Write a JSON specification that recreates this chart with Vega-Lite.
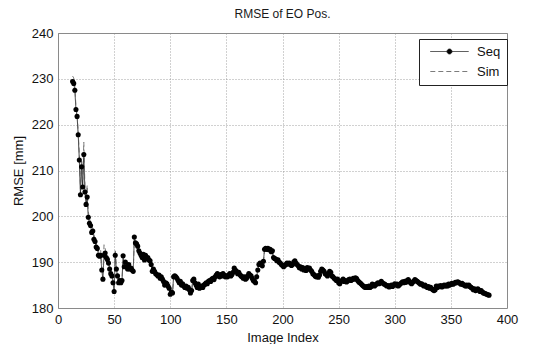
{
  "$schema": "https://vega.github.io/schema/vega-lite/v6.json",
  "width": 449,
  "height": 275,
  "autosize": "none",
  "padding": {"left": 58, "top": 33, "right": 39, "bottom": 36},
  "background": "#ffffff",
  "title": {
    "text": "RMSE of EO Pos.",
    "fontSize": 12,
    "fontWeight": "normal",
    "font": "Liberation Sans",
    "color": "#1a1a1a",
    "anchor": "middle",
    "offset": 6
  },
  "config": {
    "font": "Liberation Sans",
    "view": {"stroke": "#8a8a8a", "strokeWidth": 1},
    "axis": {
      "domain": false,
      "ticks": false,
      "grid": true,
      "gridColor": "#8a8a8a",
      "gridDash": [1, 2],
      "gridWidth": 0.8,
      "labelFontSize": 13,
      "labelColor": "#111111",
      "labelFont": "Liberation Sans",
      "titleFontSize": 13,
      "titleFontWeight": "normal",
      "titleColor": "#111111",
      "titleFont": "Liberation Sans"
    },
    "legend": {
      "orient": "none",
      "legendX": 361,
      "legendY": 6,
      "padding": 6,
      "strokeColor": "#222222",
      "fillColor": "#ffffff",
      "labelFontSize": 13,
      "labelColor": "#111111",
      "labelFont": "Liberation Sans",
      "labelOffset": 21,
      "symbolSize": 64,
      "symbolOffset": 18,
      "symbolStrokeWidth": 0.8,
      "rowPadding": 6
    }
  },
  "datasets": {
    "rmse": [
      {"i":13,"Seq":229.4,"Sim":230.6},{"i":14,"Seq":229.0,"Sim":230.2},{"i":15,"Seq":227.5,"Sim":228.3},
      {"i":16,"Seq":223.3,"Sim":224.0},{"i":17,"Seq":221.8,"Sim":222.4},{"i":18,"Seq":217.8,"Sim":218.5},
      {"i":19,"Seq":212.3,"Sim":213.6},{"i":20,"Seq":204.7,"Sim":206.0},{"i":21,"Seq":210.8,"Sim":212.4},
      {"i":22,"Seq":206.4,"Sim":208.0},{"i":23,"Seq":213.5,"Sim":216.2},{"i":24,"Seq":205.3,"Sim":206.5},
      {"i":25,"Seq":202.6,"Sim":204.0},{"i":26,"Seq":204.2,"Sim":206.8},{"i":27,"Seq":199.8,"Sim":201.0},
      {"i":28,"Seq":198.5,"Sim":199.6},{"i":29,"Seq":198.0,"Sim":198.8},{"i":30,"Seq":196.5,"Sim":197.6},
      {"i":31,"Seq":196.8,"Sim":197.5},{"i":32,"Seq":195.0,"Sim":196.2},{"i":33,"Seq":194.5,"Sim":195.0},
      {"i":34,"Seq":193.3,"Sim":194.0},{"i":35,"Seq":193.0,"Sim":193.6},{"i":36,"Seq":191.5,"Sim":192.4},
      {"i":37,"Seq":191.3,"Sim":191.8},{"i":38,"Seq":191.5,"Sim":192.6},{"i":39,"Seq":188.3,"Sim":189.0},
      {"i":40,"Seq":186.3,"Sim":187.5},{"i":41,"Seq":191.5,"Sim":193.8},{"i":42,"Seq":192.0,"Sim":193.0},
      {"i":43,"Seq":191.0,"Sim":191.8},{"i":44,"Seq":190.6,"Sim":191.2},{"i":45,"Seq":189.8,"Sim":190.5},
      {"i":46,"Seq":188.5,"Sim":189.2},{"i":47,"Seq":187.5,"Sim":188.0},{"i":48,"Seq":187.0,"Sim":187.6},
      {"i":49,"Seq":185.5,"Sim":186.2},{"i":50,"Seq":183.6,"Sim":184.5},{"i":51,"Seq":191.5,"Sim":192.8},
      {"i":52,"Seq":188.5,"Sim":189.0},{"i":53,"Seq":187.0,"Sim":187.3},{"i":54,"Seq":185.5,"Sim":186.0},
      {"i":55,"Seq":186.0,"Sim":186.2},{"i":56,"Seq":185.5,"Sim":185.7},{"i":57,"Seq":186.0,"Sim":186.2},
      {"i":58,"Seq":191.4,"Sim":190.0},{"i":59,"Seq":189.0,"Sim":188.5},{"i":60,"Seq":190.0,"Sim":189.4},
      {"i":61,"Seq":189.0,"Sim":188.4},{"i":62,"Seq":188.5,"Sim":188.0},{"i":63,"Seq":189.5,"Sim":189.0},
      {"i":64,"Seq":188.5,"Sim":188.0},{"i":65,"Seq":188.7,"Sim":188.2},{"i":66,"Seq":188.3,"Sim":187.8},
      {"i":67,"Seq":188.0,"Sim":187.6},{"i":68,"Seq":195.5,"Sim":194.8},{"i":69,"Seq":194.2,"Sim":193.5},
      {"i":70,"Seq":194.0,"Sim":193.6},{"i":71,"Seq":193.5,"Sim":193.0},{"i":72,"Seq":192.5,"Sim":192.1},
      {"i":73,"Seq":192.0,"Sim":191.5},{"i":74,"Seq":191.5,"Sim":191.0},{"i":75,"Seq":191.0,"Sim":190.4},
      {"i":76,"Seq":191.7,"Sim":191.0},{"i":77,"Seq":190.5,"Sim":190.1},{"i":78,"Seq":191.5,"Sim":190.8},
      {"i":79,"Seq":190.8,"Sim":190.3},{"i":80,"Seq":191.0,"Sim":190.5},{"i":81,"Seq":190.5,"Sim":190.0},
      {"i":82,"Seq":190.3,"Sim":189.7},{"i":83,"Seq":189.5,"Sim":189.1},{"i":84,"Seq":188.0,"Sim":187.6},
      {"i":85,"Seq":188.5,"Sim":188.0},{"i":86,"Seq":188.0,"Sim":187.4},{"i":87,"Seq":187.5,"Sim":187.1},
      {"i":88,"Seq":187.3,"Sim":186.8},{"i":89,"Seq":187.0,"Sim":186.6},{"i":90,"Seq":187.2,"Sim":186.7},
      {"i":91,"Seq":186.5,"Sim":186.1},{"i":92,"Seq":186.8,"Sim":186.3},{"i":93,"Seq":186.3,"Sim":185.9},
      {"i":94,"Seq":185.8,"Sim":185.2},{"i":95,"Seq":185.0,"Sim":184.7},{"i":96,"Seq":185.5,"Sim":185.0},
      {"i":97,"Seq":185.3,"Sim":184.9},{"i":98,"Seq":184.8,"Sim":184.3},{"i":99,"Seq":184.3,"Sim":183.9},
      {"i":100,"Seq":183.0,"Sim":182.8},{"i":101,"Seq":183.5,"Sim":183.0},{"i":102,"Seq":183.3,"Sim":183.1},
      {"i":103,"Seq":186.8,"Sim":186.3},{"i":104,"Seq":187.0,"Sim":186.6},{"i":105,"Seq":186.8,"Sim":186.4},
      {"i":106,"Seq":186.5,"Sim":186.0},{"i":107,"Seq":186.0,"Sim":185.7},{"i":108,"Seq":185.5,"Sim":185.0},
      {"i":109,"Seq":185.8,"Sim":185.4},{"i":110,"Seq":185.0,"Sim":184.7},{"i":111,"Seq":185.3,"Sim":184.8},
      {"i":112,"Seq":184.8,"Sim":184.5},{"i":113,"Seq":184.5,"Sim":184.0},{"i":114,"Seq":184.8,"Sim":184.4},
      {"i":115,"Seq":184.3,"Sim":184.0},{"i":116,"Seq":184.5,"Sim":184.1},{"i":117,"Seq":184.0,"Sim":183.7},
      {"i":118,"Seq":183.3,"Sim":183.0},{"i":119,"Seq":183.8,"Sim":183.4},{"i":120,"Seq":186.0,"Sim":185.6},
      {"i":121,"Seq":186.3,"Sim":185.8},{"i":122,"Seq":185.5,"Sim":185.2},{"i":123,"Seq":185.0,"Sim":184.6},
      {"i":124,"Seq":184.5,"Sim":184.2},{"i":125,"Seq":185.2,"Sim":184.8},{"i":126,"Seq":184.3,"Sim":184.0},
      {"i":127,"Seq":184.5,"Sim":184.2},{"i":128,"Seq":184.8,"Sim":184.4},{"i":129,"Seq":184.5,"Sim":184.2},
      {"i":130,"Seq":185.0,"Sim":184.6},{"i":131,"Seq":185.2,"Sim":184.9},{"i":132,"Seq":185.5,"Sim":185.1},
      {"i":133,"Seq":185.3,"Sim":185.0},{"i":134,"Seq":185.8,"Sim":185.4},{"i":135,"Seq":186.0,"Sim":185.7},
      {"i":136,"Seq":185.8,"Sim":185.4},{"i":137,"Seq":186.3,"Sim":186.0},{"i":138,"Seq":186.5,"Sim":186.1},
      {"i":139,"Seq":186.2,"Sim":185.9},{"i":140,"Seq":186.8,"Sim":186.4},{"i":141,"Seq":187.2,"Sim":186.9},
      {"i":142,"Seq":187.5,"Sim":187.1},{"i":143,"Seq":187.0,"Sim":186.7},{"i":144,"Seq":186.8,"Sim":186.4},
      {"i":145,"Seq":187.3,"Sim":187.0},{"i":146,"Seq":187.0,"Sim":186.6},{"i":147,"Seq":187.5,"Sim":187.2},
      {"i":148,"Seq":187.2,"Sim":186.8},{"i":149,"Seq":186.8,"Sim":186.5},{"i":150,"Seq":187.0,"Sim":186.6},
      {"i":151,"Seq":186.8,"Sim":186.5},{"i":152,"Seq":187.2,"Sim":186.8},{"i":153,"Seq":187.5,"Sim":187.2},
      {"i":154,"Seq":187.0,"Sim":186.7},{"i":155,"Seq":187.3,"Sim":186.9},{"i":156,"Seq":187.8,"Sim":187.5},
      {"i":157,"Seq":188.7,"Sim":188.3},{"i":158,"Seq":188.3,"Sim":188.0},{"i":159,"Seq":188.0,"Sim":187.6},
      {"i":160,"Seq":187.5,"Sim":187.2},{"i":161,"Seq":187.8,"Sim":187.4},{"i":162,"Seq":187.3,"Sim":187.0},
      {"i":163,"Seq":187.0,"Sim":186.6},{"i":164,"Seq":186.8,"Sim":186.5},{"i":165,"Seq":186.5,"Sim":186.1},
      {"i":166,"Seq":186.8,"Sim":186.5},{"i":167,"Seq":186.3,"Sim":186.0},{"i":168,"Seq":186.5,"Sim":186.1},
      {"i":169,"Seq":187.0,"Sim":186.7},{"i":170,"Seq":187.5,"Sim":187.1},{"i":171,"Seq":187.2,"Sim":186.9},
      {"i":172,"Seq":187.0,"Sim":186.6},{"i":173,"Seq":186.5,"Sim":186.2},{"i":174,"Seq":186.0,"Sim":185.7},
      {"i":175,"Seq":185.8,"Sim":185.4},{"i":176,"Seq":185.5,"Sim":185.2},{"i":177,"Seq":186.8,"Sim":186.6},
      {"i":178,"Seq":188.3,"Sim":188.0},{"i":179,"Seq":189.5,"Sim":189.2},{"i":180,"Seq":189.8,"Sim":189.5},
      {"i":181,"Seq":189.5,"Sim":189.2},{"i":182,"Seq":189.2,"Sim":188.9},{"i":183,"Seq":190.2,"Sim":189.9},
      {"i":184,"Seq":192.8,"Sim":192.6},{"i":185,"Seq":193.0,"Sim":192.7},{"i":186,"Seq":192.8,"Sim":192.5},
      {"i":187,"Seq":193.0,"Sim":192.8},{"i":188,"Seq":192.7,"Sim":192.4},{"i":189,"Seq":192.8,"Sim":192.5},
      {"i":190,"Seq":192.3,"Sim":192.0},{"i":191,"Seq":192.5,"Sim":192.2},{"i":192,"Seq":191.0,"Sim":190.7},
      {"i":193,"Seq":190.8,"Sim":190.5},{"i":194,"Seq":190.7,"Sim":190.4},{"i":195,"Seq":190.3,"Sim":190.0},
      {"i":196,"Seq":190.5,"Sim":190.2},{"i":197,"Seq":190.0,"Sim":189.7},{"i":198,"Seq":189.8,"Sim":189.5},
      {"i":199,"Seq":189.5,"Sim":189.2},{"i":200,"Seq":189.3,"Sim":189.0},{"i":201,"Seq":189.0,"Sim":188.8},
      {"i":202,"Seq":189.3,"Sim":189.0},{"i":203,"Seq":189.5,"Sim":189.2},{"i":204,"Seq":189.8,"Sim":189.5},
      {"i":205,"Seq":189.6,"Sim":189.3},{"i":206,"Seq":189.8,"Sim":189.5},{"i":207,"Seq":189.5,"Sim":189.2},
      {"i":208,"Seq":189.3,"Sim":189.0},{"i":209,"Seq":189.5,"Sim":189.2},{"i":210,"Seq":190.0,"Sim":189.7},
      {"i":211,"Seq":190.3,"Sim":190.0},{"i":212,"Seq":189.8,"Sim":189.5},{"i":213,"Seq":189.5,"Sim":189.2},
      {"i":214,"Seq":189.2,"Sim":188.9},{"i":215,"Seq":188.8,"Sim":188.5},{"i":216,"Seq":189.0,"Sim":188.7},
      {"i":217,"Seq":188.5,"Sim":188.2},{"i":218,"Seq":188.8,"Sim":188.5},{"i":219,"Seq":188.3,"Sim":188.0},
      {"i":220,"Seq":188.5,"Sim":188.2},{"i":221,"Seq":188.2,"Sim":187.9},{"i":222,"Seq":188.8,"Sim":188.5},
      {"i":223,"Seq":188.5,"Sim":188.2},{"i":224,"Seq":188.7,"Sim":188.4},{"i":225,"Seq":188.3,"Sim":188.0},
      {"i":226,"Seq":188.0,"Sim":187.7},{"i":227,"Seq":187.5,"Sim":187.2},{"i":228,"Seq":187.3,"Sim":187.0},
      {"i":229,"Seq":187.0,"Sim":186.7},{"i":230,"Seq":186.8,"Sim":186.5},{"i":231,"Seq":187.0,"Sim":186.7},
      {"i":232,"Seq":186.7,"Sim":186.4},{"i":233,"Seq":187.2,"Sim":187.0},{"i":234,"Seq":188.0,"Sim":187.7},
      {"i":235,"Seq":188.5,"Sim":188.2},{"i":236,"Seq":188.3,"Sim":188.0},{"i":237,"Seq":188.0,"Sim":187.7},
      {"i":238,"Seq":187.5,"Sim":187.2},{"i":239,"Seq":187.3,"Sim":187.0},{"i":240,"Seq":187.0,"Sim":186.7},
      {"i":241,"Seq":187.5,"Sim":187.2},{"i":242,"Seq":188.0,"Sim":187.7},{"i":243,"Seq":187.8,"Sim":187.5},
      {"i":244,"Seq":187.0,"Sim":186.7},{"i":245,"Seq":186.8,"Sim":186.5},{"i":246,"Seq":186.5,"Sim":186.2},
      {"i":247,"Seq":186.3,"Sim":186.0},{"i":248,"Seq":186.0,"Sim":185.7},{"i":249,"Seq":186.3,"Sim":186.0},
      {"i":250,"Seq":185.5,"Sim":185.2},{"i":251,"Seq":185.3,"Sim":185.0},{"i":252,"Seq":185.8,"Sim":185.5},
      {"i":253,"Seq":186.0,"Sim":185.7},{"i":254,"Seq":186.3,"Sim":186.0},{"i":255,"Seq":185.8,"Sim":185.5},
      {"i":256,"Seq":186.0,"Sim":185.7},{"i":257,"Seq":185.7,"Sim":185.4},{"i":258,"Seq":185.9,"Sim":185.6},
      {"i":259,"Seq":186.2,"Sim":185.9},{"i":260,"Seq":186.3,"Sim":186.0},{"i":261,"Seq":186.0,"Sim":185.7},
      {"i":262,"Seq":186.2,"Sim":185.9},{"i":263,"Seq":186.5,"Sim":186.2},{"i":264,"Seq":186.3,"Sim":186.0},
      {"i":265,"Seq":186.6,"Sim":186.3},{"i":266,"Seq":186.4,"Sim":186.1},{"i":267,"Seq":186.0,"Sim":185.7},
      {"i":268,"Seq":185.7,"Sim":185.4},{"i":269,"Seq":185.5,"Sim":185.2},{"i":270,"Seq":185.3,"Sim":185.0},
      {"i":271,"Seq":185.0,"Sim":184.7},{"i":272,"Seq":184.8,"Sim":184.5},{"i":273,"Seq":184.6,"Sim":184.3},
      {"i":274,"Seq":184.5,"Sim":184.2},{"i":275,"Seq":184.7,"Sim":184.4},{"i":276,"Seq":184.5,"Sim":184.2},
      {"i":277,"Seq":184.8,"Sim":184.5},{"i":278,"Seq":184.5,"Sim":184.2},{"i":279,"Seq":184.7,"Sim":184.4},
      {"i":280,"Seq":185.2,"Sim":184.9},{"i":281,"Seq":185.0,"Sim":184.7},{"i":282,"Seq":184.8,"Sim":184.5},
      {"i":283,"Seq":185.1,"Sim":184.8},{"i":284,"Seq":185.3,"Sim":185.0},{"i":285,"Seq":185.5,"Sim":185.2},
      {"i":286,"Seq":185.3,"Sim":185.0},{"i":287,"Seq":185.5,"Sim":185.2},{"i":288,"Seq":185.8,"Sim":185.5},
      {"i":289,"Seq":185.5,"Sim":185.2},{"i":290,"Seq":185.3,"Sim":185.0},{"i":291,"Seq":185.2,"Sim":184.9},
      {"i":292,"Seq":185.0,"Sim":184.7},{"i":293,"Seq":184.8,"Sim":184.5},{"i":294,"Seq":184.9,"Sim":184.6},
      {"i":295,"Seq":184.6,"Sim":184.3},{"i":296,"Seq":184.8,"Sim":184.5},{"i":297,"Seq":185.0,"Sim":184.7},
      {"i":298,"Seq":184.7,"Sim":184.4},{"i":299,"Seq":185.0,"Sim":184.7},{"i":300,"Seq":185.3,"Sim":185.0},
      {"i":301,"Seq":185.0,"Sim":184.7},{"i":302,"Seq":185.2,"Sim":184.9},{"i":303,"Seq":184.8,"Sim":184.5},
      {"i":304,"Seq":185.0,"Sim":184.7},{"i":305,"Seq":185.3,"Sim":185.0},{"i":306,"Seq":185.5,"Sim":185.2},
      {"i":307,"Seq":185.7,"Sim":185.4},{"i":308,"Seq":185.5,"Sim":185.2},{"i":309,"Seq":185.8,"Sim":185.5},
      {"i":310,"Seq":185.6,"Sim":185.3},{"i":311,"Seq":186.0,"Sim":185.7},{"i":312,"Seq":186.2,"Sim":185.9},
      {"i":313,"Seq":185.8,"Sim":185.5},{"i":314,"Seq":185.5,"Sim":185.2},{"i":315,"Seq":185.3,"Sim":185.0},
      {"i":316,"Seq":185.6,"Sim":185.3},{"i":317,"Seq":185.9,"Sim":185.6},{"i":318,"Seq":186.2,"Sim":185.9},
      {"i":319,"Seq":186.0,"Sim":185.7},{"i":320,"Seq":185.8,"Sim":185.5},{"i":321,"Seq":185.6,"Sim":185.3},
      {"i":322,"Seq":185.4,"Sim":185.1},{"i":323,"Seq":185.2,"Sim":184.9},{"i":324,"Seq":185.3,"Sim":185.0},
      {"i":325,"Seq":185.0,"Sim":184.7},{"i":326,"Seq":184.8,"Sim":184.5},{"i":327,"Seq":185.0,"Sim":184.6},
      {"i":328,"Seq":184.7,"Sim":184.3},{"i":329,"Seq":184.5,"Sim":184.1},{"i":330,"Seq":184.7,"Sim":184.3},
      {"i":331,"Seq":184.3,"Sim":183.9},{"i":332,"Seq":184.5,"Sim":184.1},{"i":333,"Seq":184.2,"Sim":183.8},
      {"i":334,"Seq":184.0,"Sim":183.5},{"i":335,"Seq":183.8,"Sim":183.3},{"i":336,"Seq":184.0,"Sim":183.5},
      {"i":337,"Seq":184.8,"Sim":184.3},{"i":338,"Seq":184.5,"Sim":184.0},{"i":339,"Seq":184.8,"Sim":184.3},
      {"i":340,"Seq":184.7,"Sim":184.2},{"i":341,"Seq":184.9,"Sim":184.4},{"i":342,"Seq":184.6,"Sim":184.1},
      {"i":343,"Seq":184.8,"Sim":184.3},{"i":344,"Seq":185.0,"Sim":184.5},{"i":345,"Seq":184.8,"Sim":184.3},
      {"i":346,"Seq":185.0,"Sim":184.5},{"i":347,"Seq":184.8,"Sim":184.3},{"i":348,"Seq":185.2,"Sim":184.7},
      {"i":349,"Seq":185.0,"Sim":184.5},{"i":350,"Seq":185.2,"Sim":184.7},{"i":351,"Seq":185.4,"Sim":184.9},
      {"i":352,"Seq":185.2,"Sim":184.7},{"i":353,"Seq":185.4,"Sim":184.9},{"i":354,"Seq":185.6,"Sim":185.1},
      {"i":355,"Seq":185.5,"Sim":185.0},{"i":356,"Seq":185.7,"Sim":185.2},{"i":357,"Seq":185.6,"Sim":185.1},
      {"i":358,"Seq":185.4,"Sim":184.9},{"i":359,"Seq":185.2,"Sim":184.7},{"i":360,"Seq":185.4,"Sim":184.9},
      {"i":361,"Seq":185.1,"Sim":184.6},{"i":362,"Seq":185.0,"Sim":184.5},{"i":363,"Seq":184.8,"Sim":184.3},
      {"i":364,"Seq":185.0,"Sim":184.5},{"i":365,"Seq":184.8,"Sim":184.3},{"i":366,"Seq":185.0,"Sim":184.5},
      {"i":367,"Seq":184.7,"Sim":184.2},{"i":368,"Seq":184.5,"Sim":184.0},{"i":369,"Seq":184.3,"Sim":183.8},
      {"i":370,"Seq":184.0,"Sim":183.5},{"i":371,"Seq":184.2,"Sim":183.7},{"i":372,"Seq":183.8,"Sim":183.3},
      {"i":373,"Seq":184.0,"Sim":183.5},{"i":374,"Seq":184.2,"Sim":183.6},{"i":375,"Seq":183.9,"Sim":183.4},
      {"i":376,"Seq":183.6,"Sim":183.1},{"i":377,"Seq":183.8,"Sim":183.3},{"i":378,"Seq":183.5,"Sim":183.0},
      {"i":379,"Seq":183.3,"Sim":182.8},{"i":380,"Seq":183.2,"Sim":182.7},{"i":381,"Seq":183.1,"Sim":182.6},
      {"i":382,"Seq":183.0,"Sim":182.6},{"i":383,"Seq":182.9,"Sim":182.5},{"i":384,"Seq":182.8,"Sim":182.4}
    ]
  },
  "data": {"name": "rmse"},
  "transform": [{"fold": ["Seq", "Sim"], "as": ["series", "rmse"]}],
  "encoding": {
    "x": {
      "field": "i",
      "type": "quantitative",
      "scale": {"domain": [0, 400], "nice": false, "zero": false},
      "axis": {
        "title": "Image Index",
        "values": [0, 50, 100, 150, 200, 250, 300, 350, 400],
        "labelPadding": 5,
        "titlePadding": 5,
        "labelFlush": false
      }
    },
    "y": {
      "field": "rmse",
      "type": "quantitative",
      "scale": {"domain": [180, 240], "nice": false, "zero": false},
      "axis": {
        "title": "RMSE [mm]",
        "values": [180, 190, 200, 210, 220, 230, 240],
        "labelPadding": 5,
        "titlePadding": 6,
        "labelFlush": false
      }
    }
  },
  "layer": [
    {
      "mark": {"type": "line", "strokeWidth": 0.8, "clip": true},
      "encoding": {
        "color": {
          "field": "series",
          "type": "nominal",
          "scale": {"domain": ["Seq", "Sim"], "range": ["#111111", "#5a5a5a"]},
          "legend": {
            "title": null,
            "encode": {
              "symbols": {
                "update": {
                  "shape": {"signal": "datum.value === 'Seq' ? 'M-4.8,0H4.8M-0.62,0A0.62,0.62,0,1,0,0.62,0A0.62,0.62,0,1,0,-0.62,0Z' : 'M-4.8,0H4.8'"},
                  "fill": {"signal": "datum.value === 'Seq' ? '#000000' : 'transparent'"},
                  "stroke": {"signal": "datum.value === 'Seq' ? '#111111' : '#5a5a5a'"},
                  "strokeWidth": {"value": 0.8}
                }
              }
            }
          }
        },
        "strokeDash": {
          "field": "series",
          "type": "nominal",
          "scale": {"domain": ["Seq", "Sim"], "range": [[1, 0], [5, 3]]},
          "legend": {"title": null}
        }
      }
    },
    {
      "transform": [{"filter": "datum.series === 'Seq'"}],
      "mark": {"type": "point", "shape": "circle", "filled": true, "size": 26, "color": "#000000", "opacity": 1, "clip": true}
    }
  ]
}
